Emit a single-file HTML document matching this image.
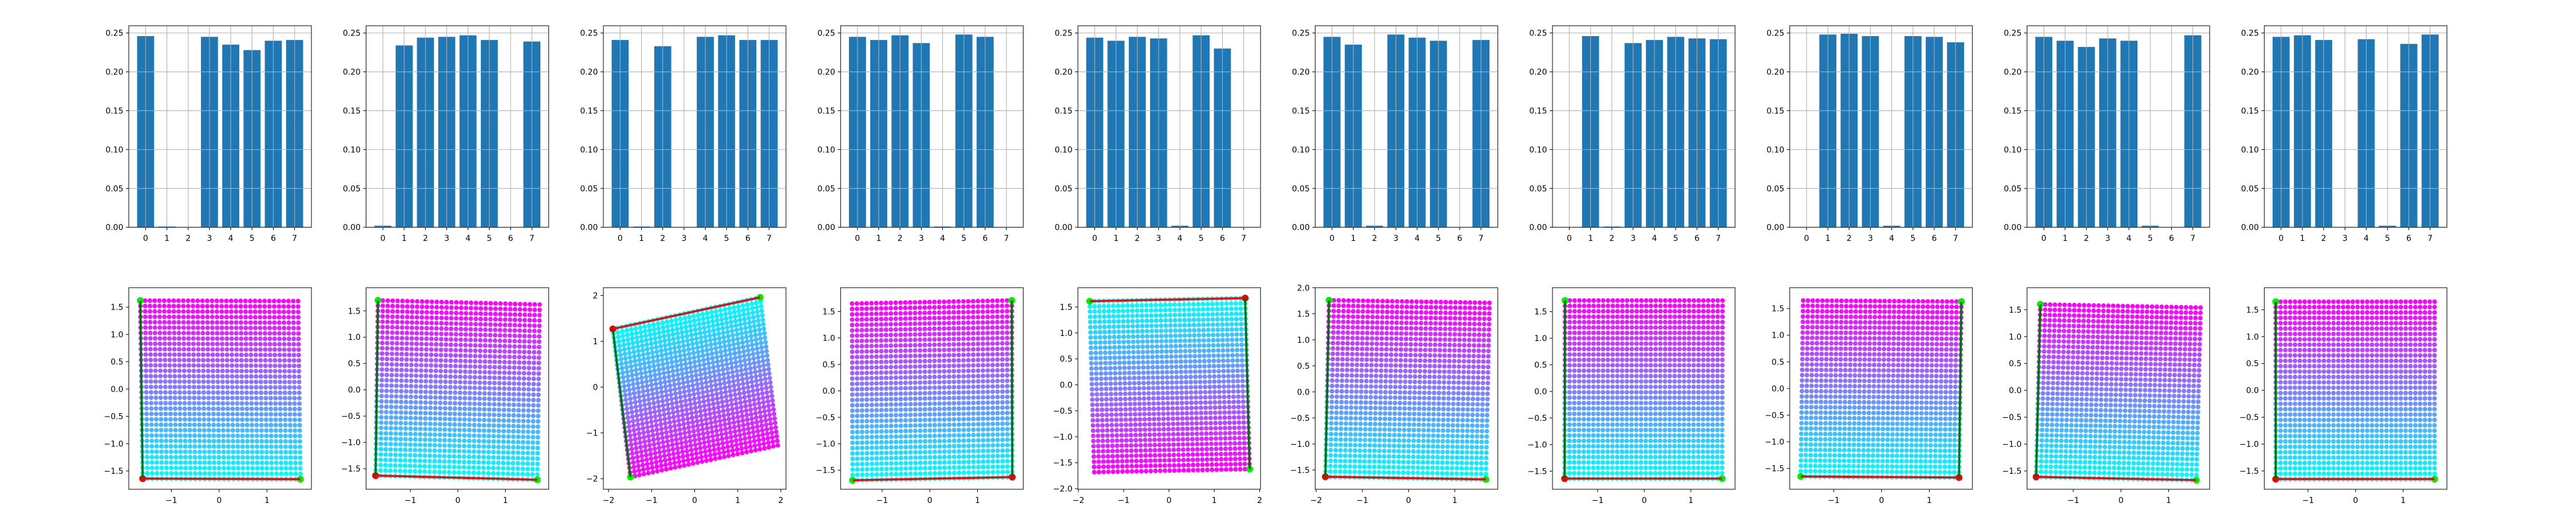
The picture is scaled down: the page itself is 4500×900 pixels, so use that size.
<!DOCTYPE html>
<html><head><meta charset="utf-8"><style>
html,body{margin:0;padding:0;background:#fff;}
svg{display:block;font-family:"DejaVu Sans","Liberation Sans",sans-serif;}
</style></head>
<body>
<svg id="fig" xmlns="http://www.w3.org/2000/svg" width="4500" height="900" viewBox="0 0 4500 900"></svg>
<script>
// ---- bar chart data (top row) ----
const barCategories = [0,1,2,3,4,5,6,7];
const barTicks = [0,0.05,0.10,0.15,0.20,0.25];
const barTickLabels = ["0.00","0.05","0.10","0.15","0.20","0.25"];
const p1Bars = [0.246,0.001,0,0.245,0.235,0.228,0.240,0.241];
const p2Bars = [0.002,0.234,0.244,0.245,0.247,0.241,0,0.239];
const p3Bars = [0.241,0.001,0.233,0,0.245,0.247,0.241,0.241];
const p4Bars = [0.245,0.241,0.247,0.237,0.001,0.248,0.245,0];
const p5Bars = [0.244,0.240,0.245,0.243,0.002,0.247,0.230,0];
const p6Bars = [0.245,0.235,0.002,0.248,0.244,0.240,0,0.241];
const p7Bars = [0,0.246,0.001,0.237,0.241,0.245,0.243,0.242];
const p8Bars = [0,0.248,0.249,0.246,0.002,0.246,0.245,0.238];
const p9Bars = [0.245,0.240,0.232,0.243,0.240,0.002,0,0.247];
const p10Bars = [0.245,0.247,0.241,0,0.242,0.002,0.236,0.248];
const allBars = [p1Bars,p2Bars,p3Bars,p4Bars,p5Bars,p6Bars,p7Bars,p8Bars,p9Bars,p10Bars];
const barYMax = 0.2593;

// ---- scatter data (bottom row): grid corners ----
const originX = [-1.60,-1.73,-1.90, 1.73, 1.68,-1.80,-1.71, 1.62,-1.78,-1.68];
const originY = [-1.64,-1.63, 1.27,-1.63, 1.67,-1.63,-1.64,-1.67,-1.61,-1.65];
const cornerAX = [1.70, 1.67, 1.52,-1.62,-1.75, 1.67, 1.67,-1.69, 1.58, 1.66];
const cornerAY = [-1.65,-1.71,1.96,-1.69, 1.61,-1.68,-1.64,-1.65,-1.67,-1.65];
const cornerBX = [-1.65,-1.68,-1.49,1.72, 1.78,-1.72,-1.70, 1.67,-1.69,-1.68];
const cornerBY = [1.62, 1.70,-1.96, 1.71,-1.62, 1.76, 1.71, 1.63, 1.60, 1.65];
const xMin = [-1.89,-1.93,-2.12,-1.87,-2.01,-2.02,-1.97,-1.92,-1.97,-1.92];
const xMax = [1.93, 1.91, 2.12, 1.96, 2.02, 1.93, 1.95, 1.90, 1.86, 1.92];
const yMin = [-1.835,-1.89,-2.23,-1.86,-2.01,-1.87,-1.84,-1.89,-1.84,-1.84];
const yMax = [1.855, 1.94, 2.17, 1.95, 1.87, 2.00, 1.95, 1.89, 1.91, 1.91];
const xTickStep = [1,1,1,1,1,1,1,1,1,1];
const yTickStep = [0.5,0.5,1,0.5,0.5,0.5,0.5,0.5,0.5,0.5];
const gridN = 34;

const NS = "http://www.w3.org/2000/svg";
const svg = document.getElementById('fig');
function mk(tag, attrs, parent){
  const e = document.createElementNS(NS, tag);
  for (const k in attrs) e.setAttribute(k, attrs[k]);
  (parent||svg).appendChild(e);
  return e;
}
function fmt(v, dec){
  let s = Math.abs(v).toFixed(dec);
  return (v < -1e-9 ? "\u2212" : "") + s;
}
const PW = 319, STEP = 414.5, L0 = 225;
const TOP1 = 45, BOT1 = 397.2, TOP2 = 502.8, BOT2 = 855;

for (let p = 0; p < 10; p++) {
  const left = L0 + STEP*p, right = left + PW;
  // ===== bar panel =====
  const g = mk('g', {});
  
  
  const bx = v => left + (v + 0.79) / 8.58 * PW;
  const by = v => BOT1 - v / barYMax * (BOT1 - TOP1);
  const vals = allBars[p];
  barCategories.forEach((c, i) => {
    const x0 = bx(c - 0.4), x1 = bx(c + 0.4), y0 = by(vals[i]);
    const r = mk('rect', {x: x0, y: y0, width: x1 - x0, height: Math.max(0, BOT1 - y0), fill: '#1f77b4'}, g);
    
    
  });
  barCategories.forEach(c => {
    mk('line', {x1: bx(c), x2: bx(c), y1: TOP1, y2: BOT1, stroke: '#b0b0b0', 'stroke-width': 1.1}, g);
    mk('line', {x1: bx(c), x2: bx(c), y1: BOT1, y2: BOT1 + 4.9, stroke: '#000', 'stroke-width': 1.1}, g);
    const t = mk('text', {x: bx(c), y: BOT1 + 24, 'font-size': 14, 'text-anchor': 'middle', fill: '#000'}, g);
    t.textContent = String(c);
    
    
  });
  barTicks.forEach((v, i) => {
    mk('line', {x1: left, x2: right, y1: by(v), y2: by(v), stroke: '#b0b0b0', 'stroke-width': 1.1}, g);
    mk('line', {x1: left - 4.9, x2: left, y1: by(v), y2: by(v), stroke: '#000', 'stroke-width': 1.1}, g);
    const t = mk('text', {x: left - 9.5, y: by(v) + 5, 'font-size': 14, 'text-anchor': 'end', fill: '#000'}, g);
    t.textContent = barTickLabels[i];
    
    
  });
  mk('rect', {x: left, y: TOP1, width: PW, height: BOT1 - TOP1, fill: 'none', stroke: '#222', 'stroke-width': 1.2}, g);

  // ===== scatter panel =====
  const s = mk('g', {});
  
  
  const sx = v => left + (v - xMin[p]) / (xMax[p] - xMin[p]) * PW;
  const sy = v => BOT2 - (v - yMin[p]) / (yMax[p] - yMin[p]) * (BOT2 - TOP2);
  const ox = originX[p], oy = originY[p];
  const ax = cornerAX[p] - ox, ay = cornerAY[p] - oy;
  const bxv = cornerBX[p] - ox, byv = cornerBY[p] - oy;
  const dots = mk('g', {}, s);
  
  
  for (let j = 0; j < gridN; j++) {
    const v = j / (gridN - 1);
    const col = 'rgb(' + Math.round(255*v) + ',' + Math.round(255*(1-v)) + ',255)';
    for (let i = 0; i < gridN; i++) {
      const u = i / (gridN - 1);
      const X = ox + u*ax + v*bxv, Y = oy + u*ay + v*byv;
      mk('circle', {cx: sx(X), cy: sy(Y), r: 4.0, fill: col}, dots);
    }
  }
  const m1 = mk('circle', {cx: sx(cornerAX[p]), cy: sy(cornerAY[p]), r: 6, fill: '#00ee00'}, s);
  
  
  const m2 = mk('circle', {cx: sx(cornerBX[p]), cy: sy(cornerBY[p]), r: 6, fill: '#00ee00'}, s);
  
  
  const m0 = mk('circle', {cx: sx(ox), cy: sy(oy), r: 6, fill: '#ee0000'}, s);
  
  
  const l1 = mk('line', {x1: sx(ox), y1: sy(oy), x2: sx(cornerAX[p]), y2: sy(cornerAY[p]), stroke: '#ff0000', 'stroke-width': 3.5}, s);
  
  
  const l2 = mk('line', {x1: sx(ox), y1: sy(oy), x2: sx(cornerBX[p]), y2: sy(cornerBY[p]), stroke: '#007000', 'stroke-width': 3.5}, s);
  
  
  const xs = xTickStep[p], ys = yTickStep[p];
  for (let v = Math.ceil((xMin[p] - 0.02)/xs)*xs; v <= xMax[p] + 0.02; v += xs) {
    const X = sx(v);
    mk('line', {x1: X, x2: X, y1: BOT2, y2: BOT2 + 4.9, stroke: '#000', 'stroke-width': 1.1}, s);
    const t = mk('text', {x: X, y: BOT2 + 24, 'font-size': 14, 'text-anchor': 'middle', fill: '#000'}, s);
    t.textContent = fmt(Math.round(v*10)/10, xs < 1 ? 1 : 0);
    
    
  }
  for (let v = Math.ceil((yMin[p] - 0.02)/ys)*ys; v <= yMax[p] + 0.02; v += ys) {
    const Y = sy(v);
    mk('line', {x1: left - 4.9, x2: left, y1: Y, y2: Y, stroke: '#000', 'stroke-width': 1.1}, s);
    const t = mk('text', {x: left - 9.5, y: Y + 5, 'font-size': 14, 'text-anchor': 'end', fill: '#000'}, s);
    t.textContent = fmt(Math.round(v*10)/10, ys < 1 ? 1 : 0);
    
    
  }
  mk('rect', {x: left, y: TOP2, width: PW, height: BOT2 - TOP2, fill: 'none', stroke: '#222', 'stroke-width': 1.2}, s);
}
</script>
</body></html>
